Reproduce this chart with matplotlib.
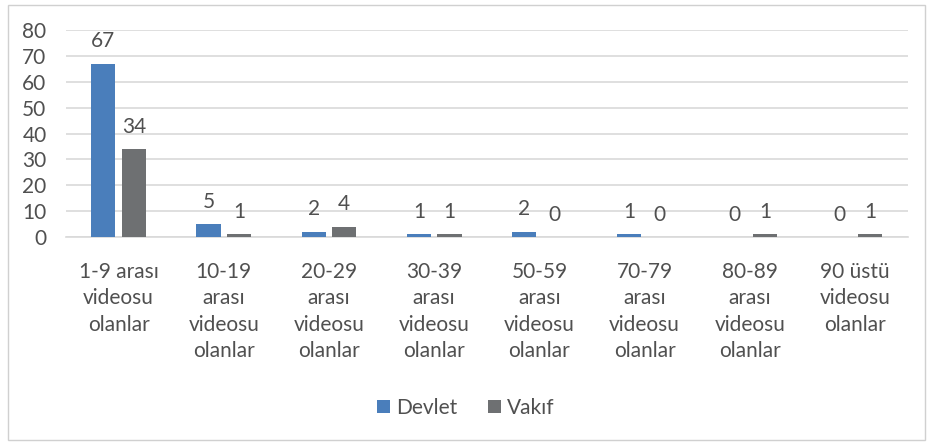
import matplotlib.pyplot as plt
import numpy as np
from matplotlib.patches import Rectangle

plt.rcParams['font.family'] = ['Lato', 'DejaVu Sans']

categories = ['1-9 arası\nvideosu\nolanlar', '10-19\narası\nvideosu\nolanlar',
              '20-29\narası\nvideosu\nolanlar', '30-39\narası\nvideosu\nolanlar',
              '50-59\narası\nvideosu\nolanlar', '70-79\narası\nvideosu\nolanlar',
              '80-89\narası\nvideosu\nolanlar', '90 üstü\nvideosu\nolanlar']
devlet = [67, 5, 2, 1, 2, 1, 0, 0]
vakif = [34, 1, 4, 1, 0, 0, 1, 1]

text_color = '#505050'
blue = '#4A7EBB'
gray = '#6E7072'
fs = 15

fig = plt.figure(figsize=(9.32, 4.45), dpi=100)
ax = fig.add_axes([0.0708, 0.4674, 0.903, 0.4652])

x = np.arange(len(categories))
w = 0.23
gap = 0.03
b1 = ax.bar(x - w / 2 - gap, devlet, w, color=blue, label='Devlet', zorder=3)
b2 = ax.bar(x + w / 2 + gap, vakif, w, color=gray, label='Vakıf', zorder=3)

for bars in (b1, b2):
    ax.bar_label(bars, padding=9, fontsize=fs, color=text_color)

ax.set_xlim(-0.5, len(categories) - 0.5)
ax.set_ylim(0, 80)
ax.set_yticks(range(0, 81, 10))
ax.set_xticks(x, labels=categories)
ax.yaxis.grid(True, color='#d9d9d9', linewidth=1.2, zorder=0)
ax.set_axisbelow(True)
for s in ['top', 'right', 'left']:
    ax.spines[s].set_visible(False)
ax.spines['bottom'].set_color('#d9d9d9')
ax.spines['bottom'].set_linewidth(1.2)
ax.tick_params(axis='both', length=0, labelsize=fs, labelcolor=text_color)
ax.tick_params(axis='x', pad=18)
ax.tick_params(axis='y', pad=14)
for lbl in ax.get_xticklabels():
    lbl.set_linespacing(1.4)
    lbl.set_verticalalignment('top')

fig.legend(handles=[b1, b2], loc='center', bbox_to_anchor=(0.5, 0.083),
           ncol=2, frameon=False, fontsize=fs, labelcolor=text_color,
           handlelength=0.6, handleheight=0.6, handletextpad=0.3, columnspacing=1.5)

fig.patches.append(Rectangle((0.009, 0.011), 0.983, 0.978, transform=fig.transFigure,
                             fill=False, edgecolor='#d0d0d0', linewidth=1))

fig.savefig('out.png', dpi=100)
